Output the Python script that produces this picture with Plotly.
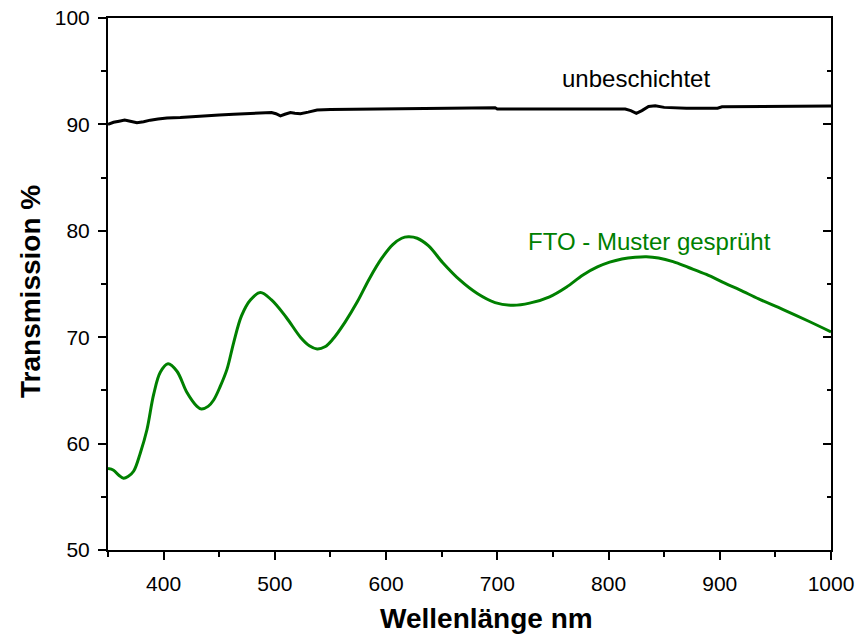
import plotly.graph_objects as go

# --- data ---
nm_uncoated = [350, 355, 360, 365, 370, 376, 382, 388, 395, 403, 415, 433, 450, 463, 480, 497,
               501, 505, 509, 514, 518, 523, 530, 538, 550, 580, 612, 650, 680, 698, 700, 720,
               760, 800, 815, 820, 825, 830, 836, 842, 850, 870, 898, 902, 950, 1000]
t_uncoated = [90.0, 90.2, 90.3, 90.4, 90.3, 90.15, 90.25, 90.4, 90.5, 90.6, 90.65, 90.8, 90.88,
              90.95, 91.03, 91.12, 91.0, 90.8, 90.95, 91.12, 91.05, 91.0, 91.15, 91.35, 91.4,
              91.43, 91.46, 91.5, 91.55, 91.57, 91.45, 91.45, 91.43, 91.45, 91.45, 91.3, 91.05,
              91.3, 91.68, 91.75, 91.6, 91.52, 91.52, 91.65, 91.68, 91.72]

nm_fto = [350, 355, 360, 364, 368, 373, 379, 385, 391, 397, 404, 412, 421, 430, 434, 440, 445,
          451, 457, 463, 470, 478, 487, 497, 510, 523, 531, 538, 545, 552, 563, 574, 585, 596,
          606, 614, 620, 628, 638, 651, 666, 682, 698, 714, 729, 747, 762, 777, 790, 801, 812,
          824, 834, 845, 858, 872, 888, 905, 918, 935, 957, 980, 1000]
t_fto = [57.65, 57.5, 57.0, 56.75, 56.9, 57.4, 59.1, 61.3, 64.6, 66.7, 67.5, 66.8, 64.8, 63.5,
         63.25, 63.5, 64.1, 65.4, 67.0, 69.5, 72.0, 73.5, 74.2, 73.5, 71.9, 70.0, 69.2, 68.9,
         69.1, 69.8, 71.4, 73.3, 75.5, 77.4, 78.7, 79.3, 79.43, 79.3, 78.6, 77.0, 75.4, 74.1,
         73.25, 73.0, 73.2, 73.8, 74.7, 75.85, 76.6, 77.05, 77.35, 77.52, 77.57, 77.45, 77.1,
         76.55, 75.9, 75.05, 74.45, 73.6, 72.6, 71.5, 70.5]

x_ticks = [400, 500, 600, 700, 800, 900, 1000]
y_ticks = [50, 60, 70, 80, 90, 100]

FONT = "Arial, 'Liberation Sans', sans-serif"
GREEN = "#008000"

W, H = 858, 641
ML, MR, MT, MB = 108, 27, 18, 91
PW, PH = W - ML - MR, H - MT - MB


def px_to_paper(px, py):
    return (px - ML) / PW, (H - MB - py) / PH


fig = go.Figure()
fig.add_trace(go.Scatter(x=nm_uncoated, y=t_uncoated, mode="lines",
                         line=dict(color="black", width=3), showlegend=False))
fig.add_trace(go.Scatter(x=nm_fto, y=t_fto, mode="lines",
                         line=dict(color=GREEN, width=3, shape="spline", smoothing=1.0),
                         showlegend=False))
# dummy trace to carry the right-hand axis
fig.add_trace(go.Scatter(x=[None], y=[None], yaxis="y2", showlegend=False, hoverinfo="skip"))

xt_x, xt_y = px_to_paper(486, 618)
yt_x, yt_y = px_to_paper(30, 292)

fig.update_layout(
    width=W, height=H,
    margin=dict(l=ML, r=MR, t=MT, b=MB),
    paper_bgcolor="white", plot_bgcolor="white",
    font=dict(family=FONT, color="black", size=21),
    xaxis=dict(range=[350, 1000], tickvals=x_ticks, ticktext=[str(v) for v in x_ticks],
               ticks="outside", ticklen=8, tickwidth=2, tickcolor="black",
               minor=dict(ticks="outside", dtick=50, tick0=350, ticklen=5, tickwidth=2,
                          tickcolor="black"),
               showline=True, linewidth=2, linecolor="black", mirror=True,
               showgrid=False, zeroline=False, ticklabelstandoff=6, automargin=False,
               tickfont=dict(size=21, family=FONT)),
    yaxis=dict(range=[50, 100], tickvals=y_ticks, ticktext=[str(v) for v in y_ticks],
               ticks="outside", ticklen=8, tickwidth=2, tickcolor="black",
               minor=dict(ticks="outside", dtick=5, tick0=50, ticklen=5, tickwidth=2,
                          tickcolor="black"),
               showline=True, linewidth=2, linecolor="black", mirror=True,
               showgrid=False, zeroline=False, ticklabelstandoff=4, automargin=False,
               tickfont=dict(size=21, family=FONT)),
    yaxis2=dict(range=[50, 100], overlaying="y", side="right", anchor="x",
                tickvals=y_ticks, showticklabels=False, automargin=False,
                ticks="inside", ticklen=8, tickwidth=2, tickcolor="black",
                minor=dict(ticks="inside", dtick=5, tick0=50, ticklen=4, tickwidth=2,
                           tickcolor="black"),
                showline=False, showgrid=False, zeroline=False),
    annotations=[
        dict(x=824.7, y=94.3, xref="x", yref="y", text="unbeschichtet", showarrow=False,
             xanchor="center", yanchor="middle",
             font=dict(size=24, family=FONT, color="black")),
        dict(x=836.4, y=79.0, xref="x", yref="y", text="FTO - Muster gesprüht",
             showarrow=False, xanchor="center", yanchor="middle",
             font=dict(size=24, family=FONT, color=GREEN)),
        dict(x=xt_x, y=xt_y, xref="paper", yref="paper", text="<b>Wellenlänge nm</b>",
             showarrow=False, xanchor="center", yanchor="middle",
             font=dict(size=28, family=FONT, color="black")),
        dict(x=yt_x, y=yt_y, xref="paper", yref="paper", text="<b>Transmission %</b>",
             showarrow=False, textangle=-90, xanchor="center", yanchor="middle",
             font=dict(size=28, family=FONT, color="black")),
    ],
)

fig.write_html("out.html")
